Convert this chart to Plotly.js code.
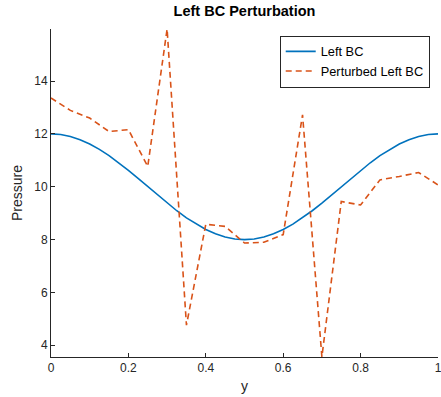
<!DOCTYPE html>
<html>
<head>
<meta charset="utf-8">
<script src="https://cdn.plot.ly/plotly-3.0.1.min.js"></script>
<style>html,body{margin:0;padding:0;background:#fff;}#chart{width:441px;height:397px;}</style>
</head>
<body>
<div id="chart"></div>
<script>
// Smooth "Left BC" curve
const yFine = [0,0.025,0.05,0.075,0.1,0.125,0.15,0.175,0.2,0.225,0.25,0.275,0.3,0.325,0.35,0.375,0.4,0.425,0.45,0.475,0.5,
  0.525,0.55,0.575,0.6,0.625,0.65,0.675,0.7,0.725,0.75,0.775,0.8,0.825,0.85,0.875,0.9,0.925,0.95,0.975,1];
const leftBC = [12,11.975,11.902,11.782,11.618,11.414,11.176,10.908,10.618,10.313,10,9.687,9.382,9.092,8.824,8.586,8.382,8.218,8.098,8.025,8,
  8.025,8.098,8.218,8.382,8.586,8.824,9.092,9.382,9.687,10,10.313,10.618,10.908,11.176,11.414,11.618,11.782,11.902,11.975,12];
// Perturbed curve, read at the grid nodes
const yNodes = [0,0.05,0.1,0.15,0.2,0.25,0.3,0.35,0.4,0.45,0.5,0.55,0.6,0.65,0.7,0.75,0.8,0.85,0.9,0.95,1];
const perturbed = [13.36,12.89,12.6,12.09,12.16,10.77,15.97,4.76,8.58,8.5,7.87,7.9,8.19,12.72,3.56,9.44,9.31,10.26,10.39,10.54,10.07];
const yTicks = [4,6,8,10,12,14];
const xTicks = [0,0.2,0.4,0.6,0.8,1];
const xTickText = ['0','0.2','0.4','0.6','0.8','1'];

const axisColor = '#262626';
const font = {family: 'Liberation Sans, Arial, Helvetica, sans-serif', size: 12, color: axisColor};

const traces = [
  {x: yFine, y: leftBC, type: 'scatter', mode: 'lines', name: 'Left BC',
   line: {color: '#0072BD', width: 1.6}},
  {x: yNodes, y: perturbed, type: 'scatter', mode: 'lines', name: 'Perturbed Left BC',
   line: {color: '#D95319', width: 1.6, dash: '6px,4px'}}
];

const layout = {
  width: 441, height: 397,
  margin: {l: 51, r: 3, t: 29, b: 40},
  paper_bgcolor: '#fff', plot_bgcolor: '#fff',
  font: font,
  showlegend: true,
  title: {text: '<b>Left BC Perturbation</b>', font: {family: font.family, size: 14.5, color: '#000'},
          x: 0.5, xref: 'paper', xanchor: 'center', y: 1, yref: 'container', yanchor: 'top', pad: {t: 6}},
  xaxis: {range: [0, 1], tickvals: xTicks, ticktext: xTickText, ticks: 'inside', ticklen: 4, tickcolor: axisColor,
          showline: true, linecolor: axisColor, linewidth: 1, zeroline: false, showgrid: false, mirror: false,
          tickfont: {size: 12, color: axisColor}, ticklabeloverflow: 'allow',
          title: {text: 'y', font: {size: 14, color: axisColor}, standoff: 6}},
  yaxis: {range: [3.557, 15.97], tickvals: yTicks, ticks: 'inside', ticklen: 4, tickcolor: axisColor,
          showline: true, linecolor: axisColor, linewidth: 1, zeroline: false, showgrid: false, mirror: false,
          tickfont: {size: 12, color: axisColor},
          title: {text: 'Pressure', font: {size: 14, color: axisColor}, standoff: 8}},
  legend: {x: 0.591, y: 0.98, xanchor: 'left', yanchor: 'top', bgcolor: '#fff', bordercolor: axisColor, borderwidth: 1,
           font: {size: 12.8, color: '#000'}, tracegroupgap: 0, itemwidth: 30}
};

Plotly.newPlot('chart', traces, layout, {displayModeBar: false, staticPlot: true});
</script>
</body>
</html>
